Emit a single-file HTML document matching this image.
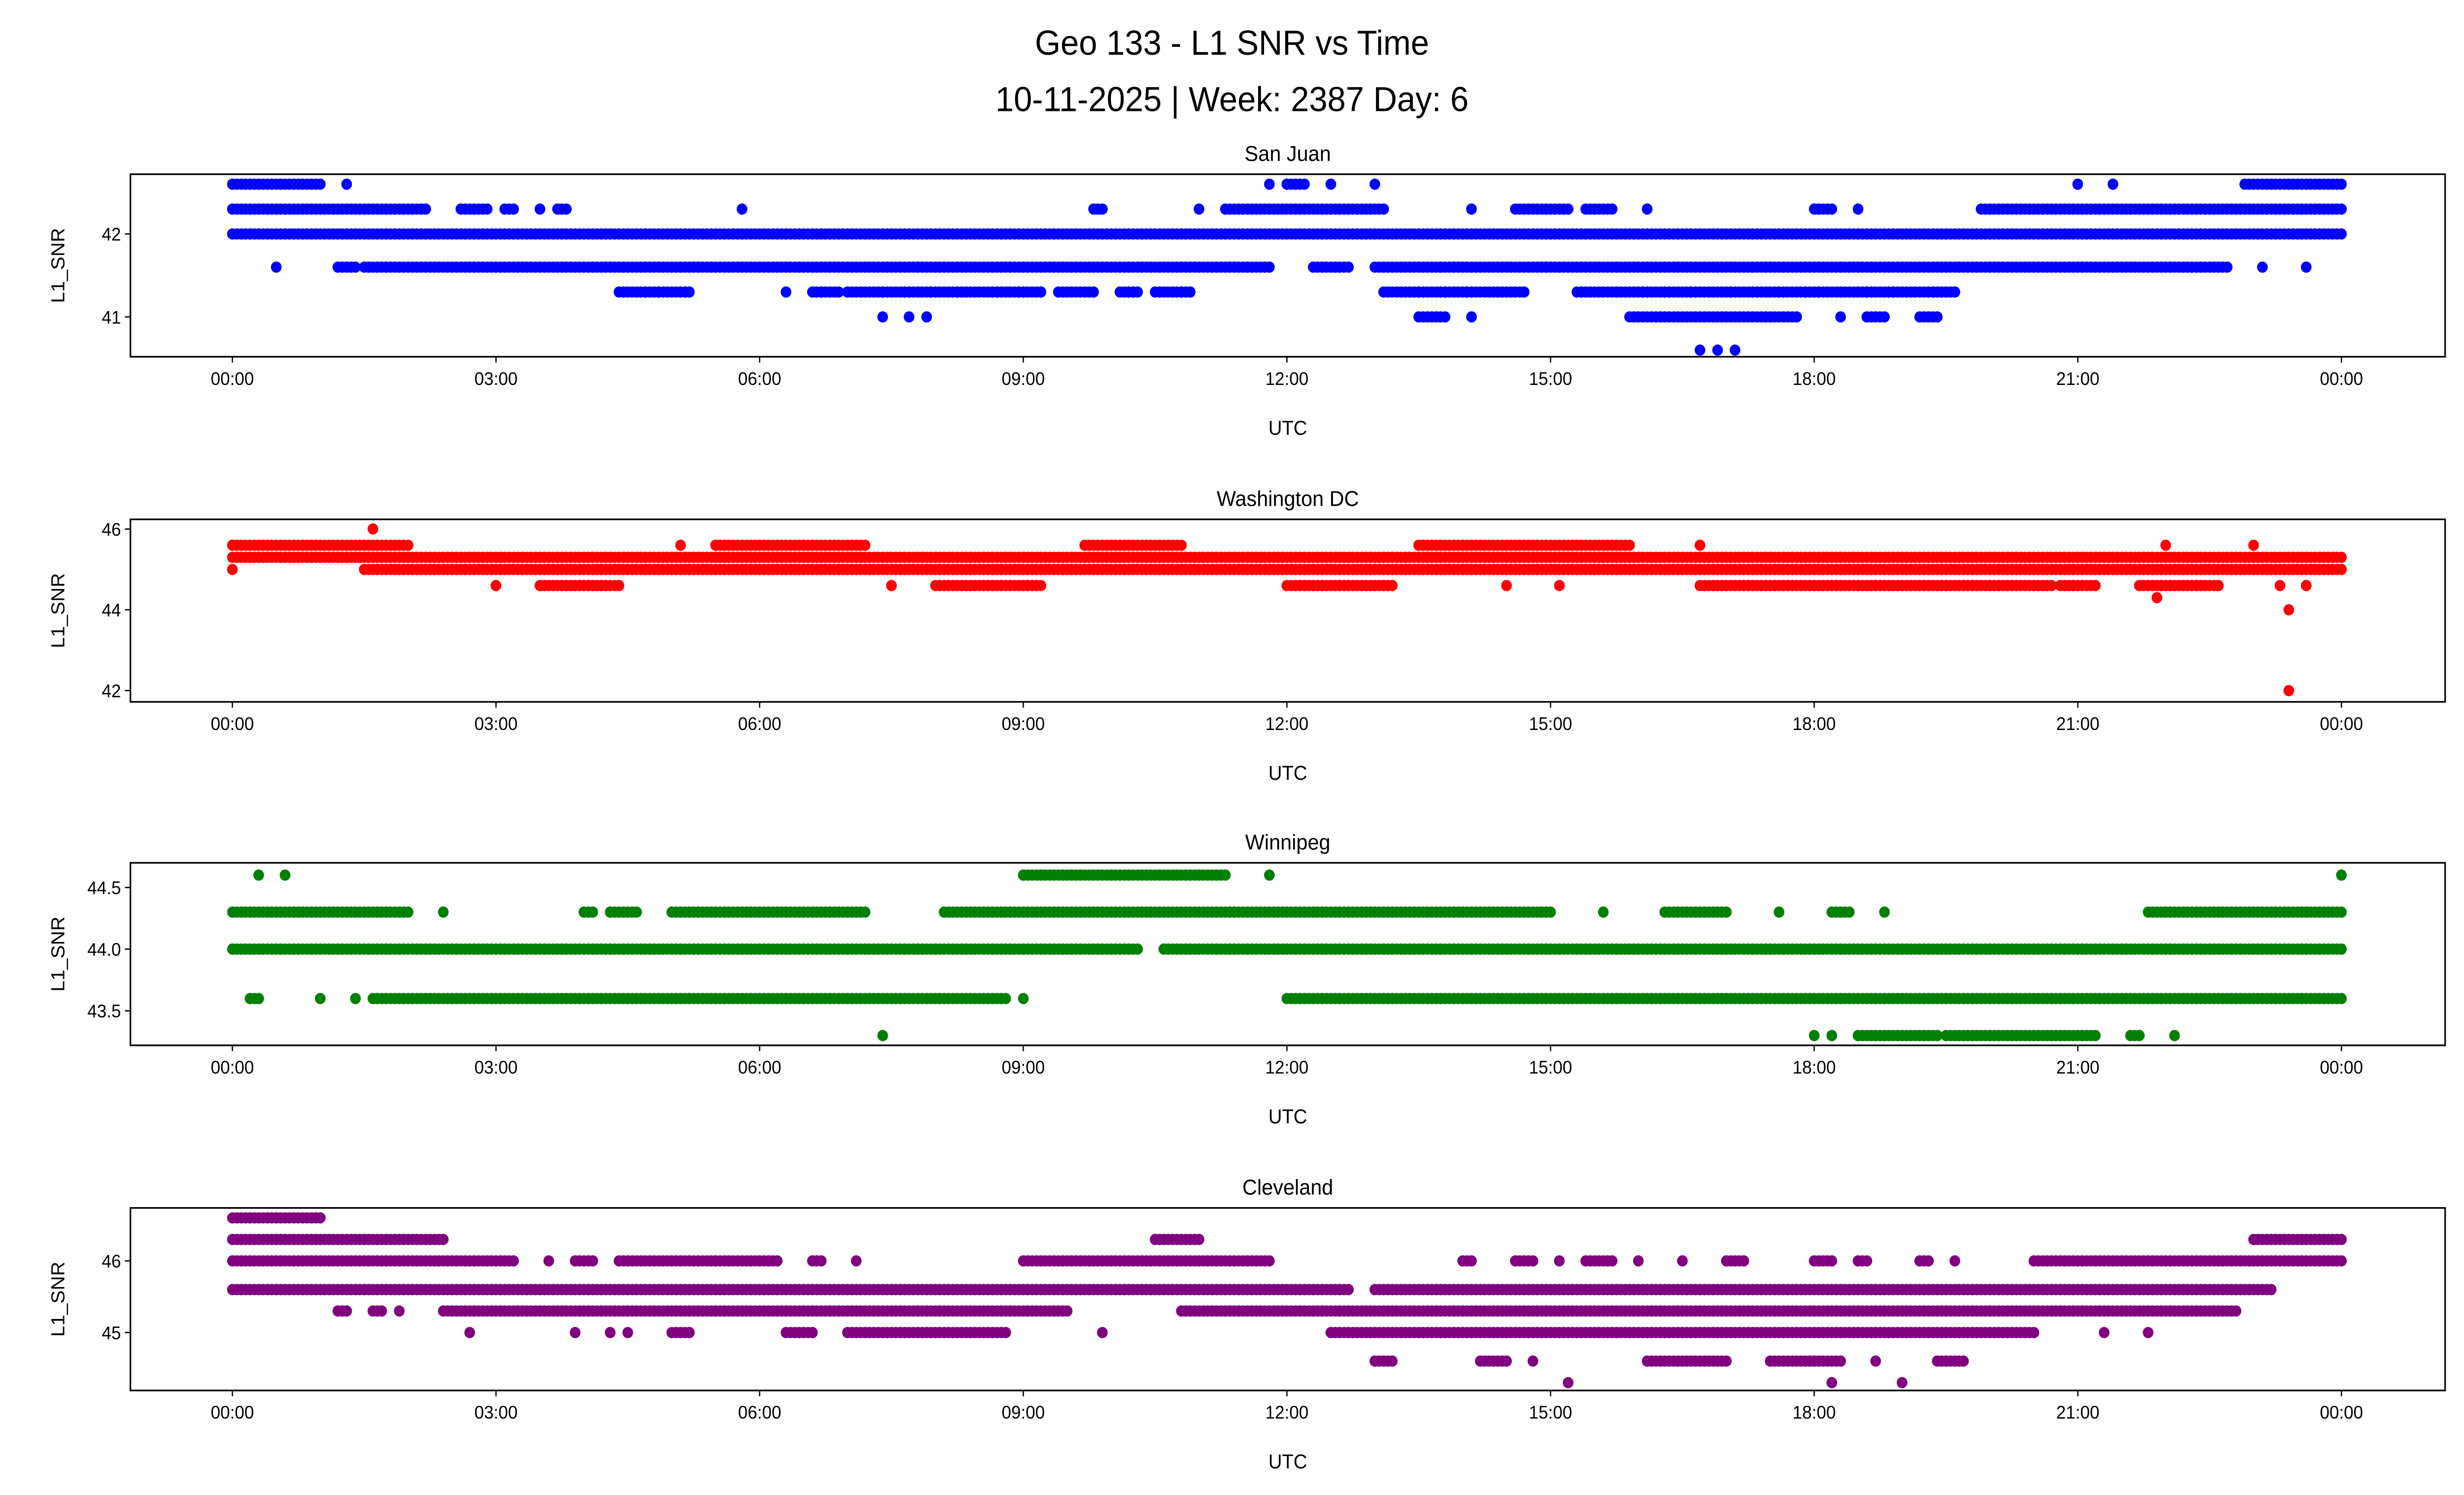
<!DOCTYPE html>
<html><head><meta charset="utf-8"><style>html,body{margin:0;padding:0;background:#fff;overflow:hidden;width:100%;height:100%}svg{display:block;position:fixed;left:0;top:0;width:100vw;height:100vh}text{font-family:"Liberation Sans","DejaVu Sans",sans-serif}</style></head>
<body>
<svg id="chart" viewBox="0 0 1568 901" preserveAspectRatio="none" xmlns="http://www.w3.org/2000/svg">
<rect width="1568" height="901" fill="#fff"/>
<text x="784" y="33" font-size="21" text-anchor="middle">Geo 133 - L1 SNR vs Time</text>
<text x="784" y="67" font-size="21" text-anchor="middle">10-11-2025 | Week: 2387 Day: 6</text>
</svg>
<script>
// runs: [startHour, endHour, SNR value]
const panelNames = ["San Juan","Washington DC","Winnipeg","Cleveland"];
const panelColors = ["#0000ff","#ff0000","#008000","#800080"];
const xTickLabels = ["00:00","03:00","06:00","09:00","12:00","15:00","18:00","21:00","00:00"];
const yTicks0 = [41,42];
const yTicks1 = [42,44,46];
const yTicks2 = [43.5,44.0,44.5];
const yTicks3 = [45,46];
const yTickLabels2 = ["43.5","44.0","44.5"];
const yRange0 = [40.52,42.72];
const yRange1 = [41.72,46.24];
const yRange2 = [43.22,44.7];
const yRange3 = [44.19,46.74];
const runs0 = [
 [0,24,42.0],
 [0,1.0,42.6],[1.3,1.3,42.6],[11.8,11.8,42.6],[12.0,12.2,42.6],[12.5,12.5,42.6],[13.0,13.0,42.6],[21.0,21.0,42.6],[21.4,21.4,42.6],[22.9,24,42.6],
 [0,2.2,42.3],[2.6,2.9,42.3],[3.1,3.2,42.3],[3.5,3.5,42.3],[3.7,3.8,42.3],[5.8,5.8,42.3],[9.8,9.9,42.3],[11.0,11.0,42.3],[11.3,13.1,42.3],[14.1,14.1,42.3],[14.6,15.2,42.3],[15.4,15.7,42.3],[16.1,16.1,42.3],[18.0,18.2,42.3],[18.5,18.5,42.3],[19.9,24,42.3],
 [0.5,0.5,41.6],[1.2,1.4,41.6],[1.5,11.8,41.6],[12.3,12.7,41.6],[13.0,22.7,41.6],[23.1,23.1,41.6],[23.6,23.6,41.6],
 [4.4,5.2,41.3],[6.3,6.3,41.3],[6.6,6.9,41.3],[7.0,9.2,41.3],[9.4,9.8,41.3],[10.1,10.3,41.3],[10.5,10.9,41.3],[13.1,14.7,41.3],[15.3,19.6,41.3],
 [7.4,7.4,41.0],[7.7,7.7,41.0],[7.9,7.9,41.0],[13.5,13.8,41.0],[14.1,14.1,41.0],[15.9,17.8,41.0],[18.3,18.3,41.0],[18.6,18.8,41.0],[19.2,19.4,41.0],
 [16.7,16.7,40.6],[16.9,16.9,40.6],[17.1,17.1,40.6]
];
const runs1 = [
 [0,24,45.3],
 [0,2.0,45.6],[5.1,5.1,45.6],[5.5,7.2,45.6],[9.7,10.8,45.6],[13.5,15.9,45.6],[16.7,16.7,45.6],[22.0,22.0,45.6],[23.0,23.0,45.6],
 [0,0,45.0],[1.5,24,45.0],
 [3.0,3.0,44.6],[3.5,4.4,44.6],[7.5,7.5,44.6],[8.0,9.2,44.6],[12.0,13.2,44.6],[14.5,14.5,44.6],[15.1,15.1,44.6],[16.7,20.7,44.6],[20.8,21.2,44.6],[21.7,22.6,44.6],[23.3,23.3,44.6],[23.6,23.6,44.6],
 [1.6,1.6,46.0],[21.9,21.9,44.3],[23.4,23.4,44.0],[23.4,23.4,42.0]
];
const runs2 = [
 [0,10.3,44.0],[10.6,24,44.0],
 [0,2.0,44.3],[2.4,2.4,44.3],[4.0,4.1,44.3],[4.3,4.6,44.3],[5.0,7.2,44.3],[8.1,15.0,44.3],[15.6,15.6,44.3],[16.3,17.0,44.3],[17.6,17.6,44.3],[18.2,18.4,44.3],[18.8,18.8,44.3],[21.8,24,44.3],
 [0.3,0.3,44.6],[0.6,0.6,44.6],[9.0,11.3,44.6],[11.8,11.8,44.6],[24,24,44.6],
 [0.2,0.3,43.6],[1.0,1.0,43.6],[1.4,1.4,43.6],[1.6,8.8,43.6],[9.0,9.0,43.6],[12.0,24,43.6],
 [7.4,7.4,43.3],[18.0,18.0,43.3],[18.2,18.2,43.3],[18.5,19.4,43.3],[19.5,21.2,43.3],[21.6,21.7,43.3],[22.1,22.1,43.3]
];
const runs3 = [
 [0,1.0,46.6],
 [0,2.4,46.3],[10.5,11.0,46.3],[23.0,24,46.3],
 [0,3.2,46.0],[3.6,3.6,46.0],[3.9,4.1,46.0],[4.4,5.5,46.0],[5.5,6.2,46.0],[6.6,6.7,46.0],[7.1,7.1,46.0],[9.0,11.8,46.0],[14.0,14.1,46.0],[14.6,14.8,46.0],[15.1,15.1,46.0],[15.4,15.7,46.0],[16.0,16.0,46.0],[16.5,16.5,46.0],[17.0,17.2,46.0],[18.0,18.2,46.0],[18.5,18.6,46.0],[19.2,19.3,46.0],[19.6,19.6,46.0],[20.5,24,46.0],
 [0,12.7,45.6],[13.0,23.2,45.6],
 [1.2,1.3,45.3],[1.6,1.7,45.3],[1.9,1.9,45.3],[2.4,9.5,45.3],[10.8,22.8,45.3],
 [2.7,2.7,45.0],[3.9,3.9,45.0],[4.3,4.3,45.0],[4.5,4.5,45.0],[5.0,5.2,45.0],[6.3,6.6,45.0],[7.0,8.8,45.0],[9.9,9.9,45.0],[12.5,20.5,45.0],[21.3,21.3,45.0],[21.8,21.8,45.0],
 [13.0,13.2,44.6],[14.2,14.5,44.6],[14.8,14.8,44.6],[16.1,17.0,44.6],[17.5,18.3,44.6],[18.7,18.7,44.6],[19.4,19.7,44.6],
 [15.2,15.2,44.3],[18.2,18.2,44.3],[19.0,19.0,44.3]
];
const panelRuns = [runs0,runs1,runs2,runs3];
const panelYTicks = [yTicks0,yTicks1,yTicks2,yTicks3];
const panelYRanges = [yRange0,yRange1,yRange2,yRange3];
const panelYLabels = [null,null,yTickLabels2,null];

const NS = "http://www.w3.org/2000/svg";
const svg = document.getElementById("chart");
const L = 83, R = 1556, X0 = -1.16, X1 = 25.18;
const tops = [105,313,520,728], H = 110;
function mk(tag, attrs, parent){const e=document.createElementNS(NS,tag);for(const k in attrs)e.setAttribute(k,attrs[k]);(parent||svg).appendChild(e);return e;}
function xs(h){return L+(h-X0)/(X1-X0)*(R-L);}
panelNames.forEach((name,i)=>{
  const top=tops[i], bot=top+H, yr=panelYRanges[i];
  const ys=v=>bot-(v-yr[0])/(yr[1]-yr[0])*H;
  const g=mk("g",{});
  
  
  const clip=mk("clipPath",{id:"c"+i},g); mk("rect",{x:L,y:top,width:R-L,height:H},clip);
  const pts=mk("g",{"clip-path":"url(#c"+i+")",fill:panelColors[i]},g);
  
  
  panelRuns[i].forEach(r=>{
    for(let h=r[0]; h<=r[1]+1e-9; h+=0.05){
      const c=mk("circle",{cx:xs(h).toFixed(1),cy:ys(r[2]).toFixed(1),r:3.4},pts);
      
      
    }
  });
  const frame=mk("rect",{x:L,y:top,width:R-L,height:H,fill:"none",stroke:"#000","stroke-width":1},g);
  
  
  xTickLabels.forEach((lab,k)=>{
    const x=xs(k*3);
    mk("line",{x1:x,x2:x,y1:bot,y2:bot+3.5,stroke:"#000","stroke-width":0.8},g);
    const t=mk("text",{x:x,y:bot+17,"font-size":11,"text-anchor":"middle"},g); t.textContent=lab;
    
    
  });
  panelYTicks[i].forEach((v,k)=>{
    const y=ys(v);
    mk("line",{x1:L-3.5,x2:L,y1:y,y2:y,stroke:"#000","stroke-width":0.8},g);
    const t=mk("text",{x:L-6,y:y+4,"font-size":11,"text-anchor":"end"},g);
    t.textContent=panelYLabels[i]?panelYLabels[i][k]:String(v);
    
    
  });
  const xl=mk("text",{x:(L+R)/2,y:bot+47,"font-size":12,"text-anchor":"middle"},g); xl.textContent="UTC";
  
  
  const yl=mk("text",{x:0,y:0,"font-size":12,"text-anchor":"middle",transform:"translate(41,"+(top+H/2)+") rotate(-90)"},g); yl.textContent="L1_SNR";
  
  
  const st=mk("text",{x:(L+R)/2,y:top-8,"font-size":13,"text-anchor":"middle"},g); st.textContent=name;
  
  
});
</script>
</body></html>
